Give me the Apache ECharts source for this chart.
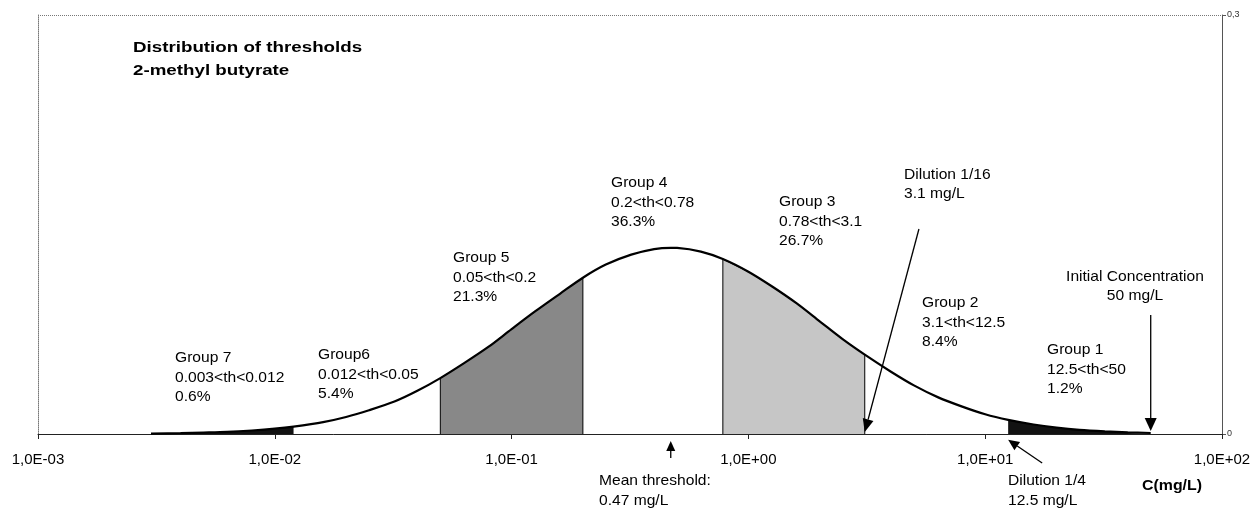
<!DOCTYPE html>
<html>
<head>
<meta charset="utf-8">
<script src="https://cdn.jsdelivr.net/npm/echarts@6/dist/echarts.min.js"></script>
<style>
  html, body { margin: 0; padding: 0; background: #fff; }
  #chart { width: 1255px; height: 510px; }
</style>
</head>
<body>
<div id="chart"></div>
<script>
// Threshold concentration C (mg/L), sampled along the log axis
const concentration = [
  0.003, 0.004, 0.005, 0.0063, 0.008, 0.01, 0.012, 0.016, 0.02, 0.025,
  0.032, 0.04, 0.05, 0.063, 0.08, 0.1, 0.126, 0.16, 0.2, 0.25,
  0.32, 0.4, 0.47, 0.5, 0.63, 0.78, 1, 1.26, 1.6, 2,
  2.5, 3.1, 4, 5, 6.3, 8, 10, 12.5, 16, 20,
  25, 32, 40, 50
];
// Frequency of panellists' thresholds at each concentration
const density = [
  0.0003, 0.0006, 0.0010, 0.0015, 0.0025, 0.0038, 0.0053, 0.0085, 0.0122, 0.0170,
  0.0232, 0.0309, 0.0400, 0.0507, 0.0625, 0.0751, 0.0879, 0.1004, 0.1119, 0.1213,
  0.1284, 0.1324, 0.1333, 0.1332, 0.1306, 0.1253, 0.1162, 0.1056, 0.0935, 0.0807,
  0.0679, 0.0568, 0.0446, 0.0348, 0.0264, 0.0196, 0.0141, 0.0101, 0.0068, 0.0046,
  0.0030, 0.0019, 0.0012, 0.0007
];

// Threshold groups
const groupNames  = ['Group 1', 'Group 2', 'Group 3', 'Group 4', 'Group 5', 'Group6', 'Group 7'];
const groupRanges = ['12.5<th<50', '3.1<th<12.5', '0.78<th<3.1', '0.2<th<0.78', '0.05<th<0.2', '0.012<th<0.05', '0.003<th<0.012'];
const groupShares = ['1.2%', '8.4%', '26.7%', '36.3%', '21.3%', '5.4%', '0.6%'];
const groupLow    = [12.5, 3.1, 0.78, 0.2, 0.05, 0.012, 0.003];
const groupHigh   = [50, 12.5, 3.1, 0.78, 0.2, 0.05, 0.012];

// Reference concentrations (mg/L)
const meanThreshold = 0.47;
const dilution16 = 3.1;
const dilution4 = 12.5;
const initialConcentration = 50;

// Axis tick labels
const xTickLabels = ['1,0E-03', '1,0E-02', '1,0E-01', '1,0E+00', '1,0E+01', '1,0E+02'];
const yTickLabels = ['0', '0,3'];

// ---------------------------------------------------------------------------
const FONT = 'Liberation Sans, Arial, sans-serif';
const chart = echarts.init(document.getElementById('chart'), null, { renderer: 'canvas' });

const curve = concentration.map((c, i) => [c, density[i]]);

// fill style per group index (null = unshaded)
const groupFill = ['#121212', null, '#c6c6c6', null, '#888888', null, '#121212'];
const groupEdge = [0, 0, 1, 0, 1, 0, 0];

function band(lo, hi) {
  const pts = curve.filter(p => p[0] >= lo * 0.999 && p[0] <= hi * 1.001);
  return [[lo, 0]].concat(pts, [[hi, 0]]);
}

const bandSeries = [];
groupFill.forEach((fill, i) => {
  if (!fill) return;
  bandSeries.push({
    type: 'line',
    name: groupNames[i],
    data: band(groupLow[i], groupHigh[i]),
    symbol: 'none',
    silent: true,
    z: 2,
    lineStyle: { color: '#000', width: groupEdge[i] },
    areaStyle: { color: fill, opacity: 1 }
  });
});

const option = {
  animation: false,
  backgroundColor: '#fff',
  grid: { left: 38, right: 33, top: 15, bottom: 76 },
  xAxis: {
    type: 'log',
    logBase: 10,
    min: 0.001,
    max: 100,
    axisLine: { show: true, lineStyle: { color: '#222', width: 1 } },
    axisTick: { show: true, length: 5, lineStyle: { color: '#222' } },
    minorTick: { show: false },
    splitLine: { show: false },
    axisLabel: {
      showMinLabel: true,
      showMaxLabel: true,
      margin: 18,
      fontFamily: FONT,
      fontSize: 15,
      color: '#000',
      formatter: v => xTickLabels[Math.round(Math.log10(v)) + 3]
    }
  },
  yAxis: [
    {
      type: 'value',
      min: 0, max: 0.3, interval: 0.3,
      position: 'left',
      axisLine: { show: true, lineStyle: { color: '#777', type: 'dotted' } },
      axisTick: { show: false },
      axisLabel: { show: false },
      splitLine: { show: true, lineStyle: { color: '#777', type: 'dotted' } }
    },
    {
      type: 'value',
      min: 0, max: 0.3, interval: 0.3,
      position: 'right',
      axisLine: { show: true, lineStyle: { color: '#555' } },
      axisTick: { show: true, length: 4, lineStyle: { color: '#555' } },
      splitLine: { show: false },
      axisLabel: {
        margin: 5,
        fontFamily: FONT,
        fontSize: 9,
        color: '#333',
        formatter: v => yTickLabels[Math.round(v / 0.3)]
      }
    }
  ],
  series: bandSeries.concat([{
    type: 'line',
    name: 'threshold distribution',
    data: curve,
    symbol: 'none',
    smooth: 0.3,
    z: 3,
    lineStyle: { color: '#000', width: 2.2 }
  }])
};

chart.setOption(option);

// ---- annotations ----------------------------------------------------------
const toPx = (p) => chart.convertToPixel({ xAxisIndex: 0, yAxisIndex: 0 }, p);

function textEl(str, x, y, opt) {
  opt = opt || {};
  return {
    type: 'text',
    x: x, y: y,
    scaleX: opt.scaleX || 1.04,
    z: 100,
    style: {
      text: str,
      x: 0, y: 0,
      fontFamily: FONT,
      fontSize: opt.size || 15,
      fontWeight: opt.weight || 'normal',
      fill: '#000',
      align: opt.align || 'left',
      textAlign: opt.align || 'left',
      verticalAlign: 'middle',
      textVerticalAlign: 'middle'
    }
  };
}

function arrowEl(from, to, headLen, headW) {
  const a = toPx(from), b = toPx(to);
  const dx = b[0] - a[0], dy = b[1] - a[1];
  const len = Math.sqrt(dx * dx + dy * dy);
  const ux = dx / len, uy = dy / len;
  const bx = b[0] - ux * headLen, by = b[1] - uy * headLen;
  const nx = -uy * headW / 2, ny = ux * headW / 2;
  return [
    { type: 'line', z: 100, silent: true,
      shape: { x1: a[0], y1: a[1], x2: bx, y2: by },
      style: { stroke: '#000', lineWidth: 1.3 } },
    { type: 'polygon', z: 100, silent: true,
      shape: { points: [[b[0], b[1]], [bx + nx, by + ny], [bx - nx, by - ny]] },
      style: { fill: '#000' } }
  ];
}

const LH = 19.5;
// left edge / first-line centre of each group caption, in group order
const groupCaptionAt = [[1047, 350], [922, 303], [779, 202], [611, 183], [453, 258], [318, 355], [175, 358]];

const graphics = [];
graphics.push(textEl('Distribution of thresholds', 133, 48, { weight: 'bold', scaleX: 1.25 }));
graphics.push(textEl('2-methyl butyrate', 133, 71, { weight: 'bold', scaleX: 1.25 }));

groupNames.forEach((name, i) => {
  const [x, y] = groupCaptionAt[i];
  graphics.push(textEl(name, x, y));
  graphics.push(textEl(groupRanges[i], x, y + LH));
  graphics.push(textEl(groupShares[i], x, y + 2 * LH));
});

graphics.push(textEl('Dilution 1/16', 904, 175));
graphics.push(textEl(dilution16 + ' mg/L', 904, 194));
graphics.push(textEl('Initial Concentration', 1135, 277, { align: 'center' }));
graphics.push(textEl(initialConcentration + ' mg/L', 1135, 296, { align: 'center' }));
graphics.push(textEl('Mean threshold:', 599, 481));
graphics.push(textEl(meanThreshold + ' mg/L', 599, 501));
graphics.push(textEl('Dilution 1/4', 1008, 481));
graphics.push(textEl(dilution4 + ' mg/L', 1008, 501));
graphics.push(textEl('C(mg/L)', 1172, 486, { weight: 'bold', align: 'center', scaleX: 1.06 }));

// arrows pointing at the reference concentrations
graphics.push(...arrowEl([5.25, 0.1468], [dilution16, 0.0014], 13, 11));
graphics.push(...arrowEl([17.4, -0.0208], [dilution4, -0.0042], 11, 10));
graphics.push(...arrowEl([meanThreshold, -0.0172], [meanThreshold, -0.005], 10, 9));
graphics.push(...arrowEl([initialConcentration, 0.0852], [initialConcentration, 0.0021], 13, 12));

chart.setOption({ graphic: { elements: graphics } });
</script>
</body>
</html>
